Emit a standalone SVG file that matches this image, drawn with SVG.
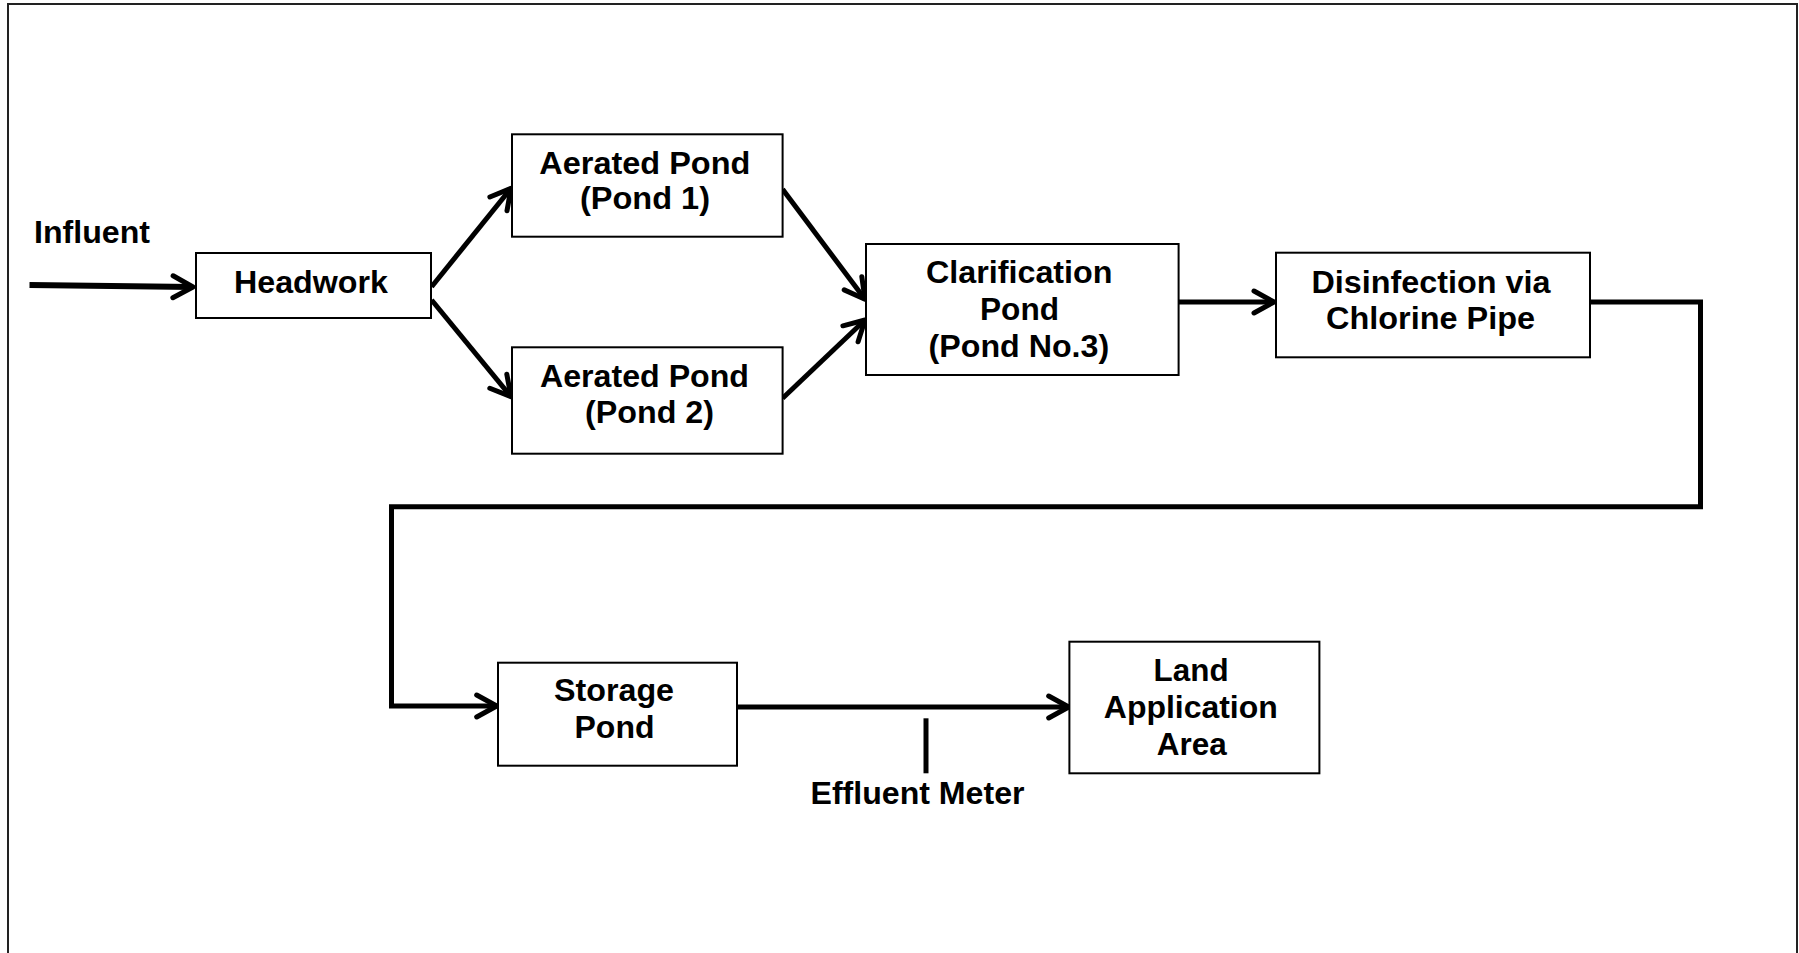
<svg xmlns="http://www.w3.org/2000/svg" width="1799" height="953" viewBox="0 0 1799 953">
<style>
.box{fill:#fff;stroke:#000;stroke-width:2}
.t{font-family:"Liberation Sans",Arial,sans-serif;font-weight:bold;font-size:31px;fill:#000}
.c{fill:none;stroke:#000;stroke-width:5}
</style>
<defs>
<marker id="ah" viewBox="-26 -16 30 32" markerWidth="30" markerHeight="32" refX="0" refY="0" orient="auto" markerUnits="userSpaceOnUse">
<path d="M-20,-11 L0,0 L-20,11" fill="none" stroke="#000" stroke-width="5" stroke-linecap="round" stroke-linejoin="round"/>
</marker>
</defs>
<rect x="0" y="0" width="1799" height="953" fill="#fff"/>
<rect x="8" y="4" width="1789" height="960" fill="none" stroke="#222" stroke-width="2"/>

<g id="connectors">
<path class="c" d="M29.5,285 L193,287" marker-end="url(#ah)" style="stroke-width:6"/>
<path class="c" d="M431.6,286.7 L511,188.3" marker-end="url(#ah)"/>
<path class="c" d="M431.6,300 L511,396.7" marker-end="url(#ah)"/>
<path class="c" d="M782.6,189.3 L865,299.3" marker-end="url(#ah)"/>
<path class="c" d="M782.6,398.3 L865,320" marker-end="url(#ah)"/>
<path class="c" d="M1178.6,302 L1274,302" marker-end="url(#ah)"/>
<path class="c" d="M1590,302 H1700.5 V506.7 H391.5 V706 H496.7" marker-end="url(#ah)"/>
<path class="c" d="M737,707 L1068.7,707" marker-end="url(#ah)"/>
<path class="c" d="M926,718.3 V773.3"/>
</g>

<g id="influent"><text class="t" x="34" y="243.3" textLength="116" lengthAdjust="spacingAndGlyphs">Influent</text></g>

<g id="headwork">
<rect class="box" x="196" y="253" width="235" height="65"/>
<text class="t" x="234" y="293.3" textLength="154" lengthAdjust="spacingAndGlyphs">Headwork</text>
</g>

<g id="pond1">
<rect class="box" x="512" y="134.3" width="270.6" height="102.4"/>
<text class="t" x="539.3" y="174" textLength="211" lengthAdjust="spacingAndGlyphs">Aerated Pond</text>
<text class="t" x="580" y="209.3" textLength="130" lengthAdjust="spacingAndGlyphs">(Pond 1)</text>
</g>

<g id="pond2">
<rect class="box" x="512" y="347.3" width="270.6" height="106.4"/>
<text class="t" x="540" y="386.7" textLength="209" lengthAdjust="spacingAndGlyphs">Aerated Pond</text>
<text class="t" x="585" y="422.7" textLength="129" lengthAdjust="spacingAndGlyphs">(Pond 2)</text>
</g>

<g id="clarification">
<rect class="box" x="866" y="244" width="312.6" height="131"/>
<text class="t" x="926" y="283.3" textLength="186.5" lengthAdjust="spacingAndGlyphs">Clarification</text>
<text class="t" x="980" y="320" textLength="79" lengthAdjust="spacingAndGlyphs">Pond</text>
<text class="t" x="928.6" y="356.7" textLength="180.5" lengthAdjust="spacingAndGlyphs">(Pond No.3)</text>
</g>

<g id="disinfection">
<rect class="box" x="1276" y="252.7" width="314" height="104.6"/>
<text class="t" x="1311.4" y="292.7" textLength="239" lengthAdjust="spacingAndGlyphs">Disinfection via</text>
<text class="t" x="1326" y="329" textLength="209" lengthAdjust="spacingAndGlyphs">Chlorine Pipe</text>
</g>

<g id="storage">
<rect class="box" x="498" y="662.7" width="239" height="103"/>
<text class="t" x="554" y="701" textLength="120" lengthAdjust="spacingAndGlyphs">Storage</text>
<text class="t" x="574.5" y="737.7" textLength="80" lengthAdjust="spacingAndGlyphs">Pond</text>
</g>

<g id="land">
<rect class="box" x="1069.4" y="641.7" width="250" height="131.6"/>
<text class="t" x="1153.6" y="681" textLength="75" lengthAdjust="spacingAndGlyphs">Land</text>
<text class="t" x="1103.8" y="718.3" textLength="174" lengthAdjust="spacingAndGlyphs">Application</text>
<text class="t" x="1156.8" y="755" textLength="70" lengthAdjust="spacingAndGlyphs">Area</text>
</g>

<g id="meter"><text class="t" x="810.5" y="804" textLength="214" lengthAdjust="spacingAndGlyphs">Effluent Meter</text></g>
</svg>
